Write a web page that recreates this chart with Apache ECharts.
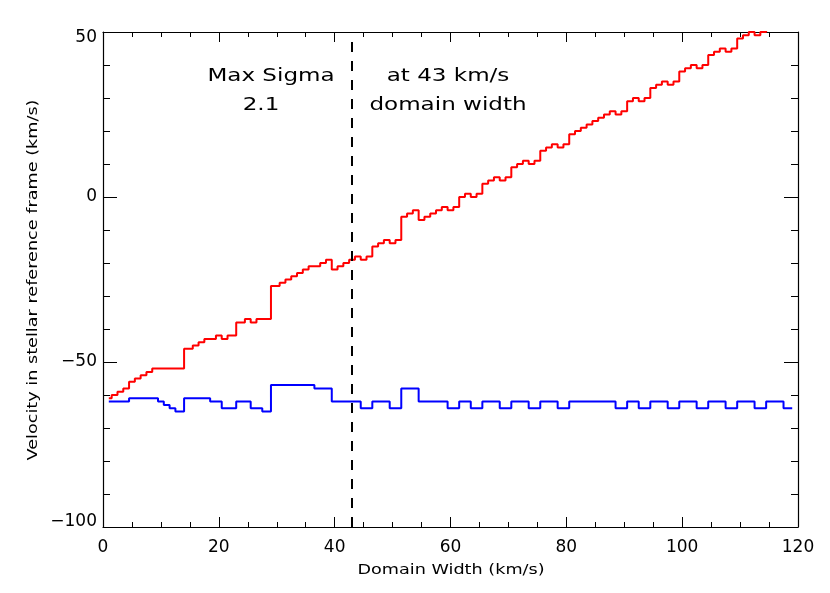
<!DOCTYPE html>
<html>
<head>
<meta charset="utf-8">
<title>Max Sigma vs domain width</title>
<script src="https://cdn.jsdelivr.net/npm/echarts@6/dist/echarts.min.js"></script>
<style>
  html, body { margin: 0; padding: 0; background: #fff; }
  #chart { width: 830px; height: 593px; }
</style>
</head>
<body>
<div id="chart"></div>
<script>
// domain widths (km/s) - 14, 23 and 29 are not in the run
const domainWidth = [
  1, 2, 3, 4, 5, 6, 7, 8, 9, 10, 11, 12, 13,
  15, 16, 17, 18, 19, 20, 21, 22,
  24, 25, 26, 27, 28,
  30, 31, 32, 33, 34, 35, 36, 37, 38, 39,
  40, 41, 42, 43, 44, 45, 46, 47, 48, 49,
  50, 51, 52, 53, 54, 55, 56, 57, 58, 59,
  60, 61, 62, 63, 64, 65, 66, 67, 68, 69,
  70, 71, 72, 73, 74, 75, 76, 77, 78, 79,
  80, 81, 82, 83, 84, 85, 86, 87, 88, 89,
  90, 91, 92, 93, 94, 95, 96, 97, 98, 99,
  100, 101, 102, 103, 104, 105, 106, 107, 108, 109,
  110, 111, 112, 113, 114, 115, 116, 117, 118, 119
];
// red curve (km/s)
const redVelocity = [
  -61, -60, -59, -58, -56, -55, -54, -53, -52, -52, -52, -52, -52,
  -46, -45, -44, -43, -43, -42, -43, -42,
  -38, -37, -38, -37, -37,
  -27, -26, -25, -24, -23, -22, -21, -21, -20, -19,
  -22, -21, -20, -19, -18, -19, -18, -15, -14, -13,
  -14, -13, -6, -5, -4, -7, -6, -5, -4, -3,
  -4, -3, 0, 1, 0, 1, 4, 5, 6, 5,
  6, 9, 10, 11, 10, 11, 14, 15, 16, 15,
  16, 19, 20, 21, 22, 23, 24, 25, 26, 25,
  26, 29, 30, 29, 30, 33, 34, 35, 34, 35,
  38, 39, 40, 39, 40, 43, 44, 45, 44, 45,
  48, 49, 50, 49, 50, 53, 54, 55, 54, 55
];
// blue curve (km/s)
const blueVelocity = [
  -62, -62, -62, -62, -61, -61, -61, -61, -61, -62, -63, -64, -65,
  -61, -61, -61, -61, -62, -62, -64, -64,
  -62, -62, -64, -64, -65,
  -57, -57, -57, -57, -57, -57, -57, -58, -58, -58,
  -62, -62, -62, -62, -62, -64, -64, -62, -62, -62,
  -64, -64, -58, -58, -58, -62, -62, -62, -62, -62,
  -64, -64, -62, -62, -64, -64, -62, -62, -62, -64,
  -64, -62, -62, -62, -64, -64, -62, -62, -62, -64,
  -64, -62, -62, -62, -62, -62, -62, -62, -62, -64,
  -64, -62, -62, -64, -64, -62, -62, -62, -64, -64,
  -62, -62, -62, -64, -64, -62, -62, -62, -64, -64,
  -62, -62, -62, -64, -64, -62, -62, -62, -64, -64
];
const maxSigmaWidth = 43;

const font = "DejaVu Sans";

const pairs = (ys) => domainWidth.map((x, i) => [x, ys[i]]);

const axisCommon = (ticklen) => ({
  type: "value",
  axisLine: { show: true, onZero: false, lineStyle: { color: "#000", width: 1.2 } },
  axisTick: { show: true, inside: true, length: ticklen, lineStyle: { color: "#000", width: 1 } },
  splitLine: { show: false },
  minorSplitLine: { show: false }
});

const xBase = () => ({
  ...axisCommon(10),
  min: 0,
  max: 120,
  interval: 20,
  minorTick: { show: true, splitNumber: 4, length: 5, lineStyle: { color: "#000", width: 1 } }
});

const yBase = () => ({
  ...axisCommon(14),
  min: -100,
  max: 50,
  interval: 50,
  minorTick: { show: true, splitNumber: 5, length: 7, lineStyle: { color: "#000", width: 1 } }
});

// y tick labels: the end ones sit inside the axis range, like the original
const yLabel = (v) => {
  const s = String(v).replace("-", "\u2212");
  if (v === 50) return "{top|" + s + "}";
  if (v === -100) return "{bot|" + s + "}";
  return s;
};

const textItem = (text, x, y, size, extra) => ({
  type: "text",
  x,
  y,
  scaleX: 1.28,
  silent: true,
  ...extra,
  style: {
    text,
    fill: "#000",
    font: size + "px '" + font + "'",
    align: "center",
    verticalAlign: "middle"
  }
});

const chart = echarts.init(document.getElementById("chart"));
chart.setOption({
  animation: false,
  backgroundColor: "#fff",
  grid: { left: 103, right: 32, top: 32, bottom: 66, containLabel: false },
  xAxis: [
    {
      ...xBase(),
      position: "bottom",
      axisLabel: { color: "#000", fontSize: 17, fontFamily: font, margin: 12 }
    },
    { ...xBase(), position: "top", axisLabel: { show: false } }
  ],
  yAxis: [
    {
      ...yBase(),
      position: "left",
      axisLabel: {
        color: "#000",
        fontSize: 17,
        fontFamily: font,
        margin: 6,
        formatter: yLabel,
        rich: {
          top: { fontSize: 17, fontFamily: font, color: "#000", padding: [12, 0, 0, 0] },
          bot: { fontSize: 17, fontFamily: font, color: "#000", padding: [0, 0, 10, 0] }
        }
      }
    },
    { ...yBase(), position: "right", axisLabel: { show: false } }
  ],
  series: [
    {
      type: "line",
      data: pairs(redVelocity),
      step: "middle",
      showSymbol: false,
      lineStyle: { color: "#ff0000", width: 2 },
      itemStyle: { color: "#ff0000" },
      emphasis: { disabled: true },
      markLine: {
        silent: true,
        symbol: ["none", "none"],
        label: { show: false },
        lineStyle: { color: "#000", width: 2, type: [10, 9] },
        data: [{ xAxis: maxSigmaWidth }]
      }
    },
    {
      type: "line",
      data: pairs(blueVelocity),
      step: "middle",
      showSymbol: false,
      lineStyle: { color: "#0000ff", width: 2 },
      itemStyle: { color: "#0000ff" },
      emphasis: { disabled: true }
    }
  ],
  graphic: [
    textItem("Max Sigma", 271, 76, 18),
    textItem("2.1", 261, 105, 18),
    textItem("at " + maxSigmaWidth + " km/s", 448, 76, 18),
    textItem("domain width", 448, 105, 18),
    textItem("Domain Width (km/s)", 451, 570, 14, { scaleX: 1.26 }),
    textItem("Velocity in stellar reference frame (km/s)", 33, 280, 14, {
      scaleX: 1.26,
      rotation: Math.PI / 2
    })
  ]
});
</script>
</body>
</html>
